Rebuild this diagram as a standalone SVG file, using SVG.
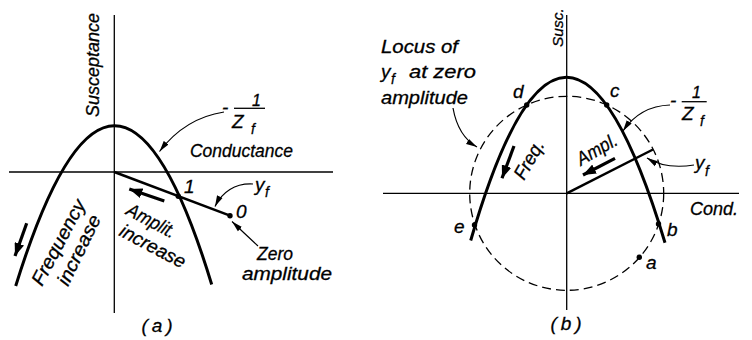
<svg xmlns="http://www.w3.org/2000/svg" width="752" height="340" viewBox="0 0 752 340">
<style>
text{font-family:"Liberation Sans",Arial,sans-serif;font-style:italic;font-size:19px;fill:#000;stroke:#000;stroke-width:0.3}
.sub{font-size:14px}
.small{font-size:16px}
.axis{stroke:#000;stroke-width:1.3;fill:none}
.curve{stroke:#000;stroke-width:3;fill:none}
.vec{stroke:#000;stroke-width:2.5;fill:none}
.lead{stroke:#000;stroke-width:1.2;fill:none}
.thick{stroke:#000;stroke-width:3.2;fill:none}
.dash{stroke:#000;stroke-width:1.3;fill:none;stroke-dasharray:9 5}
.dot{fill:#000}
</style>
<defs>
<marker id="ah" markerUnits="userSpaceOnUse" markerWidth="12" markerHeight="8" refX="11" refY="4" orient="auto"><path d="M0,1 L11,4 L0,7 z" fill="#000"/></marker>
<marker id="ahb" markerUnits="userSpaceOnUse" markerWidth="14" markerHeight="10" refX="13" refY="5" orient="auto"><path d="M0,0 L13,5 L0,10 z" fill="#000"/></marker>
</defs>

<!-- Panel (a) -->
<g id="a-axes">
<line class="axis" x1="114.3" y1="15" x2="114.3" y2="313"/>
<line class="axis" x1="9" y1="172" x2="333" y2="172"/>
<text transform="translate(99,117) rotate(-90)" textLength="104" lengthAdjust="spacingAndGlyphs">Susceptance</text>
<text x="190" y="157" textLength="103" lengthAdjust="spacingAndGlyphs">Conductance</text>
</g>
<g id="a-curve">
<path class="curve" d="M15.7,286 Q114.9,-33.8 211.7,284.5"/>
<text x="222" y="114">-</text>
<text class="small" x="252" y="106">1</text>
<line class="axis" x1="234" y1="108.3" x2="265" y2="108.3"/>
<text x="232" y="128">Z</text>
<text class="sub" x="251" y="134">f</text>
</g>
<g id="a-yf">
<line class="vec" x1="114.3" y1="172" x2="230" y2="215.7"/>
<circle class="dot" cx="178.3" cy="196.2" r="2.7"/>
<circle class="dot" cx="230" cy="215.7" r="2.7"/>
<text x="184" y="193">1</text>
<text x="236" y="218">0</text>
<text x="255" y="191">y</text>
<text class="sub" x="265" y="197">f</text>
</g>
<g id="a-labels">
<text transform="translate(125,214) rotate(28)" textLength="53" lengthAdjust="spacingAndGlyphs">Amplit.</text>
<text transform="translate(118,235) rotate(28)" textLength="72" lengthAdjust="spacingAndGlyphs">increase</text>
<text transform="translate(42,287) rotate(-62)" textLength="94" lengthAdjust="spacingAndGlyphs">Frequency</text>
<text transform="translate(68,287) rotate(-64)" textLength="76" lengthAdjust="spacingAndGlyphs">increase</text>
<text x="257" y="260" textLength="36" lengthAdjust="spacingAndGlyphs">Zero</text>
<text x="242" y="280" textLength="90" lengthAdjust="spacingAndGlyphs">amplitude</text>
<text x="159" y="332" text-anchor="middle" letter-spacing="4">(a)</text>
</g>

<!-- Panel (b) -->
<g id="b-axes">
<line class="axis" x1="566.7" y1="15" x2="566.7" y2="310"/>
<line class="axis" x1="383" y1="193.3" x2="739" y2="193.3"/>
<text transform="translate(563,47) rotate(-90)" style="font-size:15.5px">Susc.</text>
<text x="690" y="215" textLength="48" lengthAdjust="spacingAndGlyphs">Cond.</text>
</g>
<g id="b-locus">
<circle class="dash" cx="566.7" cy="193.3" r="97"/>
<text x="381" y="53" textLength="77" lengthAdjust="spacingAndGlyphs">Locus of</text>
<text x="381" y="78">y</text>
<text class="sub" x="391" y="84">f</text>
<text x="409" y="78" textLength="67" lengthAdjust="spacingAndGlyphs">at zero</text>
<text x="381" y="104" textLength="87" lengthAdjust="spacingAndGlyphs">amplitude</text>
</g>
<g id="b-curve">
<path class="curve" d="M470.7,240.5 Q565.6,-87 665,242.7"/>
<text x="670" y="107">-</text>
<text class="small" x="692" y="98">1</text>
<line class="axis" x1="681.7" y1="101.7" x2="706.7" y2="101.7"/>
<text x="682" y="120">Z</text>
<text class="sub" x="700" y="126">f</text>
</g>
<g id="b-points">
<circle class="dot" cx="526.7" cy="105" r="2.7"/>
<circle class="dot" cx="606.7" cy="105" r="2.7"/>
<circle class="dot" cx="474.5" cy="225" r="2.7"/>
<circle class="dot" cx="658.5" cy="224" r="2.7"/>
<circle class="dot" cx="639.3" cy="257.3" r="2.7"/>
<text x="513" y="98">d</text>
<text x="610" y="97">c</text>
<text x="454" y="233">e</text>
<text x="667" y="236">b</text>
<text x="646" y="269">a</text>
</g>
<g id="b-yf">
<line class="vec" x1="566.7" y1="193.3" x2="653" y2="149.5"/>
<text x="695" y="169">y</text>
<text class="sub" x="705" y="176">f</text>
</g>
<g id="b-labels">
<text transform="translate(581,166) rotate(-30)" textLength="44" lengthAdjust="spacingAndGlyphs">Ampl.</text>
<text transform="translate(524,181) rotate(-60)" textLength="42" lengthAdjust="spacingAndGlyphs">Freq.</text>
<text x="568" y="330" text-anchor="middle" letter-spacing="4">(b)</text>
</g>

<g id="connectors">
<path class="lead" d="M224,112 Q185,118 159.5,151.5" marker-end="url(#ah)"/>
<path class="lead" d="M253,184 C235,183 222,192 215,206.5" marker-end="url(#ah)"/>
<path class="lead" d="M258,246 Q244,233 232,221.5" marker-end="url(#ah)"/>
<line class="thick" x1="164.3" y1="201" x2="129.3" y2="189" marker-end="url(#ahb)"/>
<line class="thick" x1="26.7" y1="223.3" x2="15" y2="256" marker-end="url(#ahb)"/>
<path class="lead" d="M670,105 Q640,106 623,131" marker-end="url(#ah)"/>
<path class="lead" d="M694,165 C675,168 660,166 647,158" marker-end="url(#ah)"/>
<path class="lead" d="M453,108 Q458,136 477,147" marker-end="url(#ah)"/>
<line class="thick" x1="615" y1="158.3" x2="583" y2="175" marker-end="url(#ahb)"/>
<line class="thick" x1="514" y1="146" x2="502" y2="178.3" marker-end="url(#ahb)"/>
</g>
</svg>
